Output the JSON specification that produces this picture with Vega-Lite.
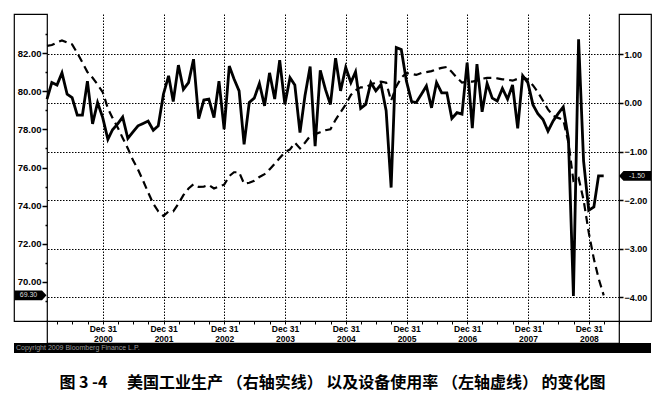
{
  "$schema": "https://vega.github.io/schema/vega-lite/v6.json",
  "padding": {"left": 13, "top": 13, "right": 11, "bottom": 4},
  "background": "white",
  "columns": 3,
  "bounds": "flush",
  "spacing": 0,
  "config": {
    "view": {"stroke": null},
    "font": "Liberation Sans"
  },
  "title": {
    "text": "图 3 -4　 美国工业生产  （右轴实线）  以及设备使用率  （左轴虚线）  的变化图",
    "orient": "bottom",
    "anchor": "middle",
    "font": "Noto Sans CJK SC",
    "fontSize": 16,
    "fontWeight": "bold",
    "color": "black",
    "offset": 22
  },
  "datasets": {
    "series": [
      {"date": "2000-01-31", "cu": 82.37, "ip": 0.08},
      {"date": "2000-02-29", "cu": 82.42, "ip": 0.42},
      {"date": "2000-03-31", "cu": 82.55, "ip": 0.37},
      {"date": "2000-04-30", "cu": 82.66, "ip": 0.62},
      {"date": "2000-05-31", "cu": 82.55, "ip": 0.18},
      {"date": "2000-06-30", "cu": 82.45, "ip": 0.11},
      {"date": "2000-07-31", "cu": 82.0, "ip": -0.25},
      {"date": "2000-08-31", "cu": 81.5, "ip": -0.25},
      {"date": "2000-09-30", "cu": 81.0, "ip": 0.45},
      {"date": "2000-10-31", "cu": 80.7, "ip": -0.43},
      {"date": "2000-11-30", "cu": 80.35, "ip": 0.01},
      {"date": "2000-12-31", "cu": 79.95, "ip": -0.30},
      {"date": "2001-01-31", "cu": 79.1, "ip": -0.75},
      {"date": "2001-02-28", "cu": 78.6, "ip": -0.55},
      {"date": "2001-03-31", "cu": 78.1, "ip": -0.43},
      {"date": "2001-04-30", "cu": 77.55, "ip": -0.29},
      {"date": "2001-05-31", "cu": 77.0, "ip": -0.73},
      {"date": "2001-06-30", "cu": 76.4, "ip": -0.60},
      {"date": "2001-07-31", "cu": 75.9, "ip": -0.47},
      {"date": "2001-08-31", "cu": 75.3, "ip": -0.42},
      {"date": "2001-09-30", "cu": 74.7, "ip": -0.37},
      {"date": "2001-10-31", "cu": 74.1, "ip": -0.56},
      {"date": "2001-11-30", "cu": 73.7, "ip": -0.47},
      {"date": "2001-12-31", "cu": 73.46, "ip": 0.18},
      {"date": "2002-01-31", "cu": 73.7, "ip": 0.56},
      {"date": "2002-02-28", "cu": 73.7, "ip": 0.03},
      {"date": "2002-03-31", "cu": 74.1, "ip": 0.78},
      {"date": "2002-04-30", "cu": 74.55, "ip": 0.28},
      {"date": "2002-05-31", "cu": 74.9, "ip": 0.42},
      {"date": "2002-06-30", "cu": 75.12, "ip": 0.90},
      {"date": "2002-07-31", "cu": 74.98, "ip": -0.32},
      {"date": "2002-08-31", "cu": 75.0, "ip": 0.06},
      {"date": "2002-09-30", "cu": 75.08, "ip": 0.08},
      {"date": "2002-10-31", "cu": 74.9, "ip": -0.30},
      {"date": "2002-11-30", "cu": 75.0, "ip": 0.45},
      {"date": "2002-12-31", "cu": 75.1, "ip": -0.54},
      {"date": "2003-01-31", "cu": 75.55, "ip": 0.76},
      {"date": "2003-02-28", "cu": 75.75, "ip": 0.50},
      {"date": "2003-03-31", "cu": 75.75, "ip": 0.25},
      {"date": "2003-04-30", "cu": 75.15, "ip": -0.85},
      {"date": "2003-05-31", "cu": 75.2, "ip": 0.01},
      {"date": "2003-06-30", "cu": 75.3, "ip": 0.10},
      {"date": "2003-07-31", "cu": 75.5, "ip": 0.40},
      {"date": "2003-08-31", "cu": 75.65, "ip": -0.06},
      {"date": "2003-09-30", "cu": 75.9, "ip": 0.62},
      {"date": "2003-10-31", "cu": 76.2, "ip": 0.08},
      {"date": "2003-11-30", "cu": 76.5, "ip": 0.88},
      {"date": "2003-12-31", "cu": 76.8, "ip": -0.03},
      {"date": "2004-01-31", "cu": 76.95, "ip": 0.52},
      {"date": "2004-02-29", "cu": 77.3, "ip": 0.37},
      {"date": "2004-03-31", "cu": 77.0, "ip": -0.61},
      {"date": "2004-04-30", "cu": 77.3, "ip": 0.15},
      {"date": "2004-05-31", "cu": 77.65, "ip": 0.75},
      {"date": "2004-06-30", "cu": 77.75, "ip": -0.89},
      {"date": "2004-07-31", "cu": 77.85, "ip": 0.67},
      {"date": "2004-08-31", "cu": 77.95, "ip": 0.28},
      {"date": "2004-09-30", "cu": 78.0, "ip": -0.03},
      {"date": "2004-10-31", "cu": 78.5, "ip": 0.92},
      {"date": "2004-11-30", "cu": 78.9, "ip": 0.25},
      {"date": "2004-12-31", "cu": 79.3, "ip": 0.73},
      {"date": "2005-01-31", "cu": 79.8, "ip": 0.42},
      {"date": "2005-02-28", "cu": 80.05, "ip": 0.64},
      {"date": "2005-03-31", "cu": 80.2, "ip": -0.11},
      {"date": "2005-04-30", "cu": 80.2, "ip": -0.03},
      {"date": "2005-05-31", "cu": 80.35, "ip": 0.42},
      {"date": "2005-06-30", "cu": 80.45, "ip": 0.25},
      {"date": "2005-07-31", "cu": 80.5, "ip": 0.38},
      {"date": "2005-08-31", "cu": 80.45, "ip": -0.16},
      {"date": "2005-09-30", "cu": 79.5, "ip": -1.74},
      {"date": "2005-10-31", "cu": 80.25, "ip": 1.14},
      {"date": "2005-11-30", "cu": 80.7, "ip": 1.10},
      {"date": "2005-12-31", "cu": 80.95, "ip": 0.45},
      {"date": "2006-01-31", "cu": 80.9, "ip": 0.03},
      {"date": "2006-02-28", "cu": 80.85, "ip": 0.01},
      {"date": "2006-03-31", "cu": 80.95, "ip": 0.18},
      {"date": "2006-04-30", "cu": 81.0, "ip": 0.35},
      {"date": "2006-05-31", "cu": 81.05, "ip": -0.10},
      {"date": "2006-06-30", "cu": 81.15, "ip": 0.42},
      {"date": "2006-07-31", "cu": 81.22, "ip": 0.21},
      {"date": "2006-08-31", "cu": 81.27, "ip": 0.21},
      {"date": "2006-09-30", "cu": 81.0, "ip": -0.32},
      {"date": "2006-10-31", "cu": 80.7, "ip": -0.20},
      {"date": "2006-11-30", "cu": 80.45, "ip": -0.23},
      {"date": "2006-12-31", "cu": 80.5, "ip": 0.83},
      {"date": "2007-01-31", "cu": 80.5, "ip": -0.52},
      {"date": "2007-02-28", "cu": 80.55, "ip": 0.80},
      {"date": "2007-03-31", "cu": 80.65, "ip": -0.18},
      {"date": "2007-04-30", "cu": 80.7, "ip": 0.40},
      {"date": "2007-05-31", "cu": 80.7, "ip": 0.10},
      {"date": "2007-06-30", "cu": 80.67, "ip": 0.04},
      {"date": "2007-07-31", "cu": 80.62, "ip": 0.30},
      {"date": "2007-08-31", "cu": 80.6, "ip": 0.08},
      {"date": "2007-09-30", "cu": 80.55, "ip": 0.37},
      {"date": "2007-10-31", "cu": 80.65, "ip": -0.52},
      {"date": "2007-11-30", "cu": 80.75, "ip": 0.56},
      {"date": "2007-12-31", "cu": 80.6, "ip": 0.42},
      {"date": "2008-01-31", "cu": 80.3, "ip": -0.04},
      {"date": "2008-02-29", "cu": 79.95, "ip": -0.22},
      {"date": "2008-03-31", "cu": 79.5, "ip": -0.34},
      {"date": "2008-04-30", "cu": 79.05, "ip": -0.58},
      {"date": "2008-05-31", "cu": 78.7, "ip": -0.37},
      {"date": "2008-06-30", "cu": 78.6, "ip": -0.22},
      {"date": "2008-07-31", "cu": 78.5, "ip": -0.08},
      {"date": "2008-08-31", "cu": 77.3, "ip": -0.74},
      {"date": "2008-09-30", "cu": 75.3, "ip": -3.97},
      {"date": "2008-10-31", "cu": 75.45, "ip": 1.31},
      {"date": "2008-11-30", "cu": 74.3, "ip": -1.19},
      {"date": "2008-12-31", "cu": 72.6, "ip": -2.21},
      {"date": "2009-01-31", "cu": 71.2, "ip": -2.14},
      {"date": "2009-02-28", "cu": 70.2, "ip": -1.50},
      {"date": "2009-03-31", "cu": 69.3, "ip": -1.50}
    ],
    "lastcu": [{"v": 69.3, "t": "69.30"}],
    "lastip": [{"v": -1.5, "t": "-1.50"}],
    "note": [{"t": "Copyright 2009 Bloomberg Finance L.P."}],
    "empty": [{}]
  },
  "concat": [
    {
      "width": 33,
      "height": 307,
      "view": {"stroke": "black", "strokeWidth": 1.2},
      "data": {"name": "lastcu"},
      "encoding": {
        "y": {
          "field": "v",
          "type": "quantitative",
          "scale": {"domain": [67.956, 84.044], "nice": false, "zero": false},
          "axis": {
            "orient": "right",
            "values": [69, 71, 73, 75, 77, 79, 81, 83],
            "labels": false,
            "domain": false,
            "grid": false,
            "ticks": true,
            "tickSize": -2,
            "tickWidth": 1.5,
            "tickColor": "black",
            "title": null
          }
        }
      },
      "layer": [
        {
          "mark": {
            "type": "point",
            "shape": "M-1,-0.31L0.72,-0.31L1,0L0.72,0.31L-1,0.31Z",
            "size": 1024,
            "filled": true,
            "fill": "black",
            "stroke": null,
            "opacity": 1
          }
        },
        {
          "mark": {"type": "text", "color": "#dddddd", "fontSize": 7, "dx": -2},
          "encoding": {"text": {"field": "t"}}
        }
      ]
    },
    {
      "width": 572,
      "height": 307,
      "data": {"name": "series"},
      "layer": [
        {
          "mark": {"type": "line", "stroke": "black", "strokeWidth": 2.2, "strokeDash": [8, 5]},
          "encoding": {
            "x": {
              "field": "date",
              "type": "temporal",
              "scale": {
                "type": "utc",
                "domain": [
                  {"year": 2000, "month": 1, "date": 31, "utc": true},
                  {"year": 2009, "month": 7, "date": 1, "utc": true}
                ]
              },
              "axis": {
                "title": null,
                "tickCount": {"interval": "month", "step": 3},
                "labelExpr": "utcmonth(datum.value) === 0 ? ['Dec 31', '' + (utcyear(datum.value) - 1)] : ''",
                "grid": true,
                "gridColor": "black",
                "gridDash": [1.5, 1.5],
                "gridWidth": 1,
                "gridOpacity": {"condition": {"test": "utcmonth(datum.value) === 0", "value": 1}, "value": 0},
                "domain": true,
                "domainColor": "black",
                "domainWidth": 1.2,
                "ticks": true,
                "tickSize": 3,
                "tickColor": "black",
                "tickWidth": 1,
                "labelFont": "Liberation Sans",
                "labelFontSize": 8.5,
                "labelFontWeight": "bold",
                "labelColor": "black",
                "labelLineHeight": 10.5,
                "labelPadding": 0,
                "labelOverlap": false,
                "labelFlush": false
              }
            },
            "y": {
              "field": "cu",
              "type": "quantitative",
              "scale": {"domain": [67.956, 84.044], "nice": false, "zero": false},
              "axis": {
                "orient": "left",
                "title": null,
                "values": [70, 72, 74, 76, 78, 80, 82],
                "format": ".2f",
                "domain": false,
                "grid": false,
                "tickSize": 5,
                "tickWidth": 1.5,
                "tickColor": "black",
                "labelPadding": 1,
                "labelFont": "Liberation Sans",
                "labelFontSize": 9.5,
                "labelFontWeight": "bold",
                "labelColor": "black"
              }
            }
          }
        },
        {
          "mark": {"type": "line", "stroke": "black", "strokeWidth": 2.8},
          "encoding": {
            "x": {"field": "date", "type": "temporal"},
            "y": {
              "field": "ip",
              "type": "quantitative",
              "scale": {"domain": [-4.486, 1.831], "nice": false, "zero": false},
              "axis": {
                "orient": "right",
                "title": null,
                "values": [-4, -3, -2, -1, 0, 1],
                "format": ".2f",
                "domain": false,
                "grid": true,
                "gridColor": "black",
                "gridDash": [1.5, 1.5],
                "gridWidth": 1,
                "tickSize": 4,
                "tickWidth": 1.5,
                "tickColor": "black",
                "labelPadding": 1,
                "labelFont": "Liberation Sans",
                "labelFontSize": 9,
                "labelFontWeight": "bold",
                "labelColor": "black"
              }
            }
          }
        }
      ],
      "resolve": {"scale": {"y": "independent"}}
    },
    {
      "width": 32,
      "height": 307,
      "view": {"stroke": "black", "strokeWidth": 1.2},
      "data": {"name": "lastip"},
      "encoding": {
        "y": {
          "field": "v",
          "type": "quantitative",
          "scale": {"domain": [-4.486, 1.831], "nice": false, "zero": false},
          "axis": null
        }
      },
      "layer": [
        {
          "mark": {
            "type": "point",
            "shape": "M1,-0.31L-0.72,-0.31L-1,0L-0.72,0.31L1,0.31Z",
            "size": 1024,
            "filled": true,
            "fill": "black",
            "stroke": null,
            "opacity": 1
          }
        },
        {
          "mark": {"type": "text", "color": "#dddddd", "fontSize": 7, "dx": 2},
          "encoding": {"text": {"field": "t"}}
        }
      ]
    },
    {
      "width": 33,
      "height": 22,
      "data": {"name": "empty"},
      "mark": {"type": "point", "opacity": 0}
    },
    {
      "width": 572,
      "height": 22,
      "view": {"stroke": "black", "strokeWidth": 1.2},
      "data": {"name": "empty"},
      "mark": {"type": "point", "opacity": 0}
    },
    {
      "width": 32,
      "height": 22,
      "data": {"name": "empty"},
      "mark": {"type": "point", "opacity": 0}
    },
    {
      "width": 33,
      "height": 10,
      "view": {"fill": "black", "stroke": null},
      "data": {"name": "empty"},
      "mark": {"type": "point", "opacity": 0}
    },
    {
      "width": 572,
      "height": 10,
      "view": {"fill": "black", "stroke": null},
      "data": {"name": "note"},
      "mark": {"type": "text", "align": "left", "baseline": "middle", "color": "#9a9a9a", "fontSize": 7, "dx": -31},
      "encoding": {
        "x": {"datum": 0, "type": "quantitative", "scale": {"domain": [0, 1]}, "axis": null},
        "text": {"field": "t"}
      }
    },
    {
      "width": 32,
      "height": 10,
      "view": {"fill": "black", "stroke": null},
      "data": {"name": "empty"},
      "mark": {"type": "point", "opacity": 0}
    }
  ],
  "resolve": {"scale": {"x": "independent", "y": "independent"}}
}
